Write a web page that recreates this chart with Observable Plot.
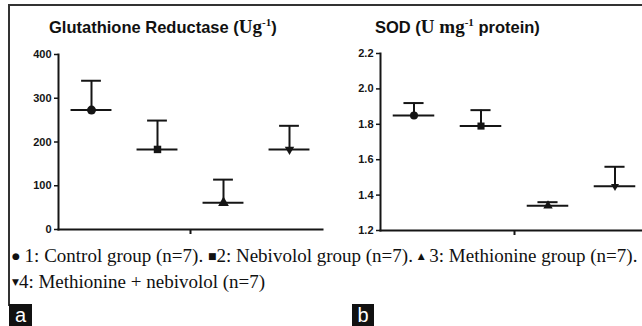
<!DOCTYPE html>
<html><head><meta charset="utf-8">
<script src="https://cdn.jsdelivr.net/npm/d3@7"></script>
<script src="https://cdn.jsdelivr.net/npm/@observablehq/plot@0.6"></script>
<style>
body{margin:0;background:#fff;}
#root{position:relative;width:642px;height:326px;overflow:hidden;background:#fff;}
.abs{position:absolute;}
.title{font-family:"Liberation Sans",Arial,sans-serif;font-weight:bold;font-size:16.5px;color:#111;white-space:nowrap;line-height:18px;}
.serif{font-family:"Liberation Serif","Times New Roman",serif;font-size:19px;}
.title sup{font-family:"Liberation Serif",serif;font-size:11px;vertical-align:7px;}
.legend{font-family:"Liberation Serif","Times New Roman",serif;font-size:19px;color:#111;white-space:nowrap;line-height:20px;}
.mk{font-family:"DejaVu Sans",sans-serif;font-size:9px;vertical-align:3px;}
.tag{background:#111;color:#fff;font-family:"Liberation Sans",sans-serif;font-size:20px;line-height:22px;text-align:center;}
</style></head>
<body><div id="root"></div>
<script>
// ---- data ----
const groups = [1, 2, 3, 4];
const groupLabels = ["1: Control group (n=7).", "2: Nebivolol group (n=7).", "3: Methionine group (n=7).", "4: Methionine + nebivolol (n=7)"];
const markerGlyphs = ["●", "■", "▲", "▼"];
const symbols = ["circle", "square", "triangle", "triangle"];
const rotations = [0, 0, 0, 180];
const grMeans = [273, 183, 61, 183];
const grUpper = [340, 249, 114, 237];
const sodMeans = [1.85, 1.79, 1.34, 1.45];
const sodUpper = [1.92, 1.88, 1.36, 1.56];
const grTicks = [0, 100, 200, 300, 400];
const sodTicks = [1.2, 1.4, 1.6, 1.8, 2.0, 2.2];
const grTitle = ["Glutathione Reductase (", "Ug", "-1", ")"];
const sodTitle = ["SOD (", "U mg", "-1", " protein)"];
const panelTags = ["a", "b"];

const root = document.getElementById("root");
function add(html, cls, style) {
  const d = document.createElement("div");
  d.className = "abs " + cls;
  d.innerHTML = html;
  Object.assign(d.style, style);
  root.appendChild(d);
  return d;
}

function panel(means, upper, yDomain, ticks, fmt, o) {
  const data = groups.map((g, i) => ({g, mean: means[i], upper: upper[i], symbol: symbols[i], rotate: rotations[i], r: o.sizes[i]}));
  const ink = "#151515";
  return Plot.plot({
    width: o.width, height: 240,
    marginLeft: o.ml, marginRight: 0, marginTop: o.top, marginBottom: 240 - o.bottom,
    x: {domain: [0.5, 4.5], axis: null},
    y: {domain: yDomain, axis: null},
    r: {type: "identity"},
    style: {background: "transparent", overflow: "visible", fontFamily: "'Liberation Sans', Arial, sans-serif", fontWeight: "bold", fontSize: "11px", color: ink},
    marks: [
      Plot.ruleY(data, {y: "mean", x1: d => d.g - 0.31, x2: d => d.g + 0.31, stroke: ink, strokeWidth: 2}),
      Plot.ruleX(data, {x: "g", y1: "mean", y2: "upper", stroke: ink, strokeWidth: 2}),
      Plot.ruleY(data, {y: "upper", x1: d => d.g - 0.15, x2: d => d.g + 0.15, stroke: ink, strokeWidth: 2}),
      Plot.dot(data, {x: "g", y: "mean", symbol: "symbol", rotate: "rotate", r: "r", fill: ink, stroke: "none"}),
      Plot.axisY({ticks, tickFormat: fmt, tickSize: 4, tickPadding: 3, stroke: ink, strokeWidth: 1.5, fill: ink, label: null}),
      Plot.frame({anchor: "left", stroke: ink, strokeWidth: 2}),
      Plot.frame({anchor: "bottom", stroke: ink, strokeWidth: 2}),
      Plot.axisX({ticks: [2.5], tickFormat: () => "", tickSize: 5, stroke: ink, strokeWidth: 2, label: null})
    ]
  });
}

// border
add("", "", {left: "8px", top: "4px", width: "640px", height: "300px", borderTop: "2px solid #333", borderLeft: "2px solid #333"});

const left = panel(grMeans, grUpper, [0, 400], grTicks, d3.format("d"), {width: 322, ml: 58, top: 54, bottom: 229, sizes: [4.5, 4.2, 4, 3.5]});
left.style.position = "absolute"; left.style.left = "0px"; left.style.top = "0px";
root.appendChild(left);
const right = panel(sodMeans, sodUpper, [1.2, 2.2], sodTicks, d3.format(".1f"), {width: 318, ml: 50, top: 53, bottom: 230, sizes: [4, 4, 3.5, 3]});
right.style.position = "absolute"; right.style.left = "330px"; right.style.top = "0px";
root.appendChild(right);

// titles
function titleHtml(t) { return t[0] + '<span class="serif">' + t[1] + '</span><sup>' + t[2] + '</sup>' + t[3]; }
add(titleHtml(grTitle), "title", {left: "49px", top: "13px"});
add(titleHtml(sodTitle), "title", {left: "375px", top: "13px"});

// legend
const line1 = groups.slice(0, 3).map((g, i) => '<span class="mk">' + markerGlyphs[i] + '</span>' + (i === 1 ? '' : ' ') + groupLabels[i]).join(' ');
add(line1, "legend", {left: "12px", top: "246px"});
add('<span class="mk">' + markerGlyphs[3] + '</span>' + groupLabels[3], "legend", {left: "12px", top: "272px"});

// panel tags
add(panelTags[0], "tag", {left: "9px", top: "304px", width: "23px", height: "22px"});
add(panelTags[1], "tag", {left: "352px", top: "304px", width: "22px", height: "22px"});
</script>
</body></html>
